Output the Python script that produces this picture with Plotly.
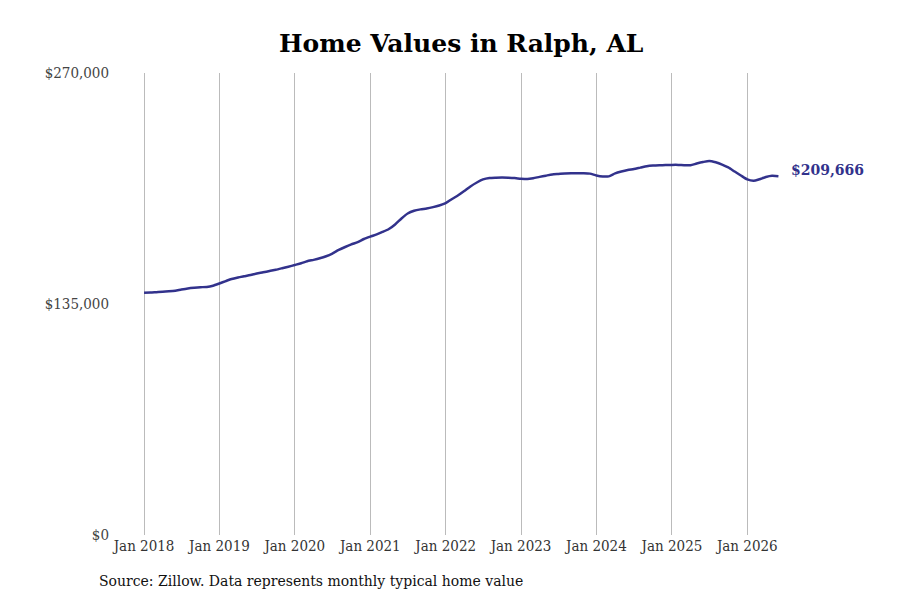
import pandas as pd
import plotly.graph_objects as go

# monthly typical home value, Jan 2018 .. Jun 2026
dates = pd.date_range("2018-01-01", periods=102, freq="MS")
values = [
    141600, 141700, 141900, 142100, 142400, 142800, 143500, 144100, 144500, 144800, 145000, 145700,
    147000, 148400, 149600, 150500, 151200, 151900, 152800, 153500, 154300, 155000, 155900, 156800,
    157800, 158800, 160000, 160800, 161700, 162900, 164500, 166600, 168300, 169800, 171200, 173000,
    174400, 175700, 177100, 178800, 181500, 185000, 187900, 189500, 190300, 190800, 191600, 192600,
    194000, 196400, 198400, 201000, 203700, 206000, 207800, 208600, 208800, 208900, 208800, 208600,
    208200, 208000, 208500, 209300, 210000, 210700, 211000, 211300, 211400, 211400, 211400, 211200,
    210100, 209500, 209600, 211300, 212400, 213300, 213900, 214700, 215500, 215900, 216100, 216200,
    216300, 216300, 216100, 216100, 217100, 218000, 218600, 217800, 216500, 214800, 212400, 210100,
    207800, 207000, 207900, 209200, 209900, 209666,
]
x_ticks = pd.date_range("2018-01-01", "2026-01-01", freq="YS")
x_tick_labels = [d.strftime("%b %Y") for d in x_ticks]
y_ticks = [0, 135000, 270000]
y_tick_labels = ["$0", "$135,000", "$270,000"]
last_label = "$209,666"

line_color = "#32328c"
font_family = "DejaVu Serif"
tick_family = "DejaVu Serif Condensed, DejaVu Serif"

fig = go.Figure()
fig.add_trace(
    go.Scatter(
        x=dates,
        y=values,
        mode="lines",
        line=dict(color=line_color, width=2.5, shape="spline", smoothing=0.6),
        hoverinfo="skip",
        showlegend=False,
    )
)

fig.add_annotation(
    x=dates[-1],
    y=values[-1],
    text=f"<b>{last_label}</b>",
    showarrow=False,
    xanchor="left",
    xshift=11,
    yshift=6,
    font=dict(family=font_family, size=14, color=line_color),
)

fig.add_annotation(
    x=0,
    y=0,
    xref="paper",
    yref="paper",
    xanchor="left",
    yanchor="top",
    xshift=-13,
    yshift=-36,
    text="Source: Zillow. Data represents monthly typical home value",
    showarrow=False,
    font=dict(family=font_family, size=14, color="#111111"),
)

fig.update_layout(
    width=892,
    height=592,
    template="plotly_white",
    plot_bgcolor="white",
    paper_bgcolor="white",
    title=dict(
        text="<b>Home Values in Ralph, AL</b>",
        x=0.508,
        xanchor="center",
        y=0.941,
        yanchor="middle",
        font=dict(family=font_family, size=25, color="#000000"),
    ),
    margin=dict(l=102, r=20, t=65, b=65),
    xaxis=dict(
        range=["2017-07-20", "2027-10-06"],
        tickvals=x_ticks,
        ticktext=x_tick_labels,
        showgrid=True,
        gridcolor="#bbbbbb",
        gridwidth=1,
        zeroline=False,
        showline=False,
        ticks="",
        tickfont=dict(family=tick_family, size=15, color="#333333"),
    ),
    yaxis=dict(
        range=[0, 270000],
        tickvals=y_ticks,
        ticktext=y_tick_labels,
        showgrid=False,
        zeroline=False,
        showline=False,
        ticks="",
        tickfont=dict(family=tick_family, size=15, color="#444444"),
    ),
)

fig.write_html("out.html")
